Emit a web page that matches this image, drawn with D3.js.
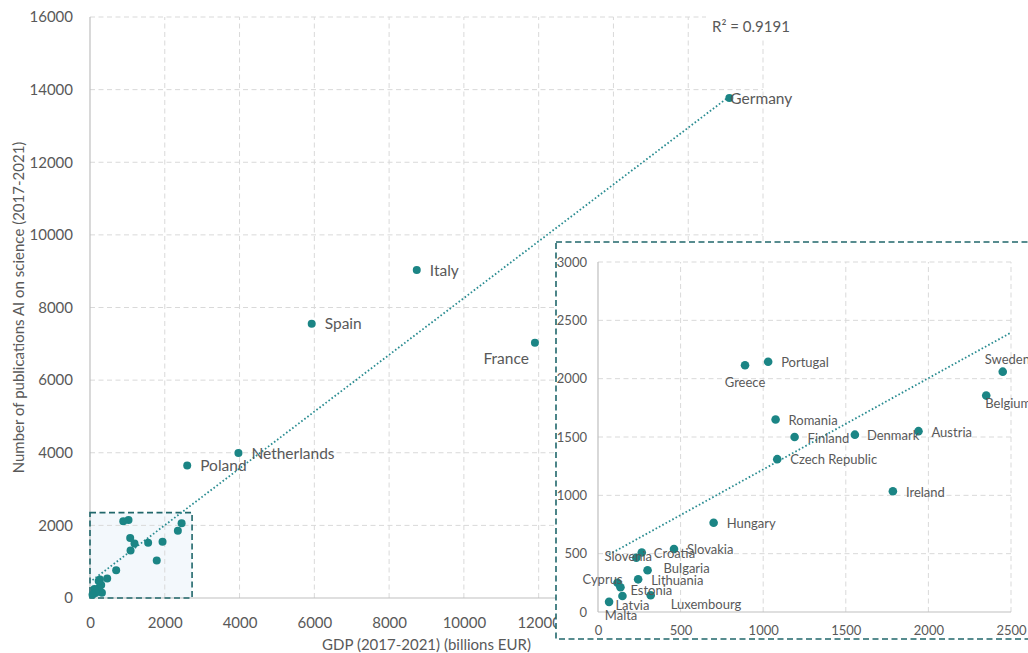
<!DOCTYPE html>
<html>
<head>
<meta charset="utf-8">
<script src="https://cdnjs.cloudflare.com/ajax/libs/d3/7.8.5/d3.min.js"></script>
<style>
  body { margin: 0; background: #fff; }
  svg { display: block; }
  text { font-family: Lato, "Open Sans", sans-serif; fill: #595959; }
</style>
</head>
<body>
<svg id="chart" width="1028" height="653"></svg>
<script>
// EU member states: GDP summed over 2017-2021 vs. AI-on-science publications
const countries = ["Germany", "France", "Italy", "Spain", "Netherlands", "Poland",
  "Sweden", "Belgium", "Austria", "Ireland", "Denmark", "Finland", "Czech Republic",
  "Romania", "Portugal", "Greece", "Hungary", "Slovakia", "Bulgaria", "Croatia",
  "Lithuania", "Slovenia", "Luxembourg", "Cyprus", "Estonia", "Latvia", "Malta"];
const gdp = [17100, 11900, 8740, 5930, 3970, 2600,
  2450, 2350, 1940, 1785, 1555, 1190, 1085,
  1075, 1030, 890, 700, 460, 300, 265,
  243, 232, 319, 118, 136, 148, 67];
const publications = [13770, 7030, 9030, 7550, 3990, 3650,
  2060, 1855, 1550, 1035, 1520, 1500, 1310,
  1650, 2145, 2115, 765, 540, 358, 510,
  280, 465, 143, 250, 212, 137, 87];

// linear trend fitted to the data
const trendIntercept = 440;
const trendSlope = 0.782;
const rSquaredLabel = "R\u00b2 = 0.9191";

const mainXTicks = [0, 2000, 4000, 6000, 8000, 10000, 12000, 14000, 16000, 18000];
const mainXLabelled = [0, 2000, 4000, 6000, 8000, 10000, 12000];
const mainYTicks = [0, 2000, 4000, 6000, 8000, 10000, 12000, 14000, 16000];
const insetXTicks = [0, 500, 1000, 1500, 2000, 2500];
const insetYTicks = [0, 500, 1000, 1500, 2000, 2500, 3000];
const zoomWindow = [2730, 2350]; // GDP and publication extent shown enlarged

const points = countries.map((c, i) => ({ name: c, x: gdp[i], y: publications[i] }));

// label placement relative to each dot: [dx, dy, anchor]
const mainLabelPos = {
  "Germany": [1, 1, "start"], "Italy": [13, 0, "start"], "Spain": [13, 0, "start"],
  "France": [-6, 16, "end"], "Netherlands": [13, 0, "start"], "Poland": [13, 0, "start"]
};
const insetLabelPos = {
  "Greece": [0, 17, "middle"], "Portugal": [13, 1, "start"], "Sweden": [-18, -12, "start"],
  "Belgium": [-1, 8, "start"], "Romania": [13, 1, "start"], "Finland": [13, 1, "start"],
  "Denmark": [12, 1, "start"], "Austria": [13, 1, "start"], "Czech Republic": [13, 0, "start"],
  "Ireland": [13, 1, "start"], "Hungary": [13, 1, "start"], "Slovakia": [13, 0, "start"],
  "Croatia": [12, 1, "start"], "Slovenia": [-8, -1, "middle"], "Bulgaria": [16, -2, "start"],
  "Lithuania": [13, 1, "start"], "Cyprus": [-15, -3, "middle"], "Estonia": [10, 3, "start"],
  "Latvia": [10, 9, "middle"], "Luxembourg": [20, 9, "start"], "Malta": [12, 14, "middle"]
};

const DOT = "#1b8585";
const TREND = "#2a8c91";
const FRAME = "#20676b";
const GRID = "#d9d9d9";
const AXIS = "#bfbfbf";
const FONT = "Lato, 'Open Sans', sans-serif";

const svg = d3.select("#chart");

// tick labels of the main panel stop where the enlarged panel begins
svg.append("defs").append("clipPath").attr("id", "mainClip")
  .append("rect").attr("x", 0).attr("y", 0).attr("width", 556).attr("height", 653);

function drawPanel(g, x, y, xTicks, yTicks, opts) {
  const [x0, x1] = x.range();
  const [y0, y1] = y.range();
  // grid
  g.append("g").selectAll("line").data(xTicks.filter(t => t > 0)).join("line")
    .attr("x1", d => x(d)).attr("x2", d => x(d)).attr("y1", y0).attr("y2", y1)
    .attr("stroke", GRID).attr("stroke-dasharray", "5,3.5");
  g.append("g").selectAll("line").data(yTicks.filter(t => t > 0)).join("line")
    .attr("x1", x0).attr("x2", x1).attr("y1", d => y(d)).attr("y2", d => y(d))
    .attr("stroke", GRID).attr("stroke-dasharray", "5,3.5");
  // axes
  const ax = g.append("g").attr("transform", `translate(0,${y0})`)
    .call(d3.axisBottom(x).tickValues(opts.xLabelled || xTicks).tickSize(0)
      .tickPadding(opts.xPad).tickFormat(d3.format("d")));
  if (opts.clip) ax.attr("clip-path", `url(#${opts.clip})`);
  const ay = g.append("g").attr("transform", `translate(${x0},0)`)
    .call(d3.axisLeft(y).tickValues(yTicks).tickSize(0).tickPadding(opts.yPad).tickFormat(d3.format("d")));
  [ax, ay].forEach(a => {
    a.select(".domain").remove();
    a.selectAll("text").attr("font-size", opts.fontSize).style("fill", "#595959")
      .attr("font-family", FONT);
  });
  g.append("line").attr("x1", x0).attr("x2", x0).attr("y1", y0).attr("y2", y1)
    .attr("stroke", AXIS).attr("stroke-width", 1.2);
  g.append("line").attr("x1", x0).attr("x2", x1).attr("y1", y0).attr("y2", y0)
    .attr("stroke", AXIS).attr("stroke-width", 1.2);
}

function drawTrend(g, x, y, clipTo) {
  const xs = [d3.min(gdp), clipTo === undefined ? d3.max(gdp) : Math.min(d3.max(gdp), clipTo)];
  g.append("line")
    .attr("x1", x(xs[0])).attr("y1", y(trendIntercept + trendSlope * xs[0]))
    .attr("x2", x(xs[1])).attr("y2", y(trendIntercept + trendSlope * xs[1]))
    .attr("stroke", TREND).attr("stroke-width", 1.8)
    .attr("stroke-dasharray", "1.6,2.2");
}

// ---------- main panel ----------
const x = d3.scaleLinear().domain([0, 18000]).range([90, 763]);
const y = d3.scaleLinear().domain([0, 16000]).range([598, 17]);
const main = svg.append("g");

main.append("rect")
  .attr("x", x(0)).attr("y", y(zoomWindow[1]))
  .attr("width", x(zoomWindow[0]) - x(0)).attr("height", y(0) - y(zoomWindow[1]))
  .attr("fill", "#f3f8fc");

drawPanel(main, x, y, mainXTicks, mainYTicks,
  { xPad: 19, yPad: 17, fontSize: 15, xLabelled: mainXLabelled, clip: "mainClip" });

main.append("rect")
  .attr("x", x(0)).attr("y", y(zoomWindow[1]))
  .attr("width", x(zoomWindow[0]) - x(0)).attr("height", y(0) - y(zoomWindow[1]))
  .attr("fill", "none").attr("stroke", FRAME).attr("stroke-width", 1.6)
  .attr("stroke-dasharray", "6,3.5");

drawTrend(main, x, y);

main.append("g").selectAll("circle").data(points).join("circle")
  .attr("cx", d => x(d.x)).attr("cy", d => y(d.y)).attr("r", 4).attr("fill", DOT);

main.append("g").selectAll("text").data(points.filter(d => mainLabelPos[d.name])).join("text")
  .attr("x", d => x(d.x) + mainLabelPos[d.name][0])
  .attr("y", d => y(d.y) + mainLabelPos[d.name][1])
  .attr("dy", "0.35em")
  .attr("text-anchor", d => mainLabelPos[d.name][2])
  .attr("font-size", 15.5)
  .text(d => d.name);

// R² label with its own white box
main.append("rect").attr("x", 706).attr("y", 12).attr("width", 94).attr("height", 28).attr("fill", "#fff");
main.append("text").attr("x", 712).attr("y", 27).attr("dy", "0.35em")
  .attr("font-size", 15).text(rSquaredLabel);

// axis titles
svg.append("text")
  .attr("transform", `translate(19,${(y.range()[0] + y.range()[1]) / 2}) rotate(-90)`)
  .attr("text-anchor", "middle").attr("dy", "0.35em").attr("font-size", 15)
  .text("Number of publications AI on science (2017-2021)");
svg.append("text")
  .attr("x", (x.range()[0] + x.range()[1]) / 2).attr("y", 645).attr("dy", "0.35em")
  .attr("text-anchor", "middle").attr("font-size", 15)
  .text("GDP (2017-2021) (billions EUR)");

// ---------- enlarged panel ----------
const inset = svg.append("g");
inset.append("rect")
  .attr("x", 556).attr("y", 242).attr("width", 490).attr("height", 397)
  .attr("fill", "#fff").attr("stroke", FRAME).attr("stroke-width", 1.6)
  .attr("stroke-dasharray", "6,3.5");

const xi = d3.scaleLinear().domain([0, 2500]).range([598, 1011]);
const yi = d3.scaleLinear().domain([0, 3000]).range([612, 262]);

drawPanel(inset, xi, yi, insetXTicks, insetYTicks, { xPad: 14, yPad: 11, fontSize: 13 });
drawTrend(inset, xi, yi, 2500);

const insetPoints = points.filter(d => insetLabelPos[d.name]);
inset.append("g").selectAll("circle").data(insetPoints).join("circle")
  .attr("cx", d => xi(d.x)).attr("cy", d => yi(d.y)).attr("r", 4.3).attr("fill", DOT);

inset.append("g").selectAll("text").data(insetPoints).join("text")
  .attr("x", d => xi(d.x) + insetLabelPos[d.name][0])
  .attr("y", d => yi(d.y) + insetLabelPos[d.name][1])
  .attr("dy", "0.35em")
  .attr("text-anchor", d => insetLabelPos[d.name][2])
  .attr("font-size", 13)
  .text(d => d.name);
</script>
</body>
</html>
